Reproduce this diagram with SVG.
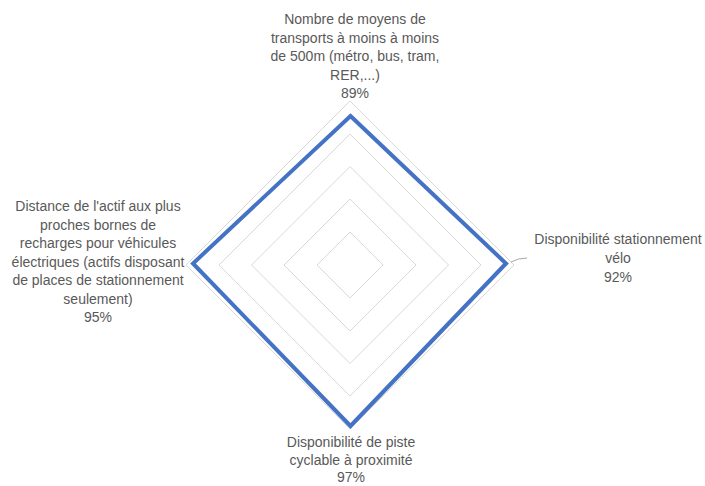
<svg xmlns="http://www.w3.org/2000/svg" width="705" height="486" viewBox="0 0 705 486">
<style>
.grid{fill:none;stroke:#d9d9d9;stroke-width:1}
.lbl{font-family:"Liberation Sans",Arial,sans-serif;font-size:14px;fill:#595959;text-anchor:middle}
.series{fill:none;stroke:#4472c4;stroke-width:4;stroke-linejoin:miter}
</style>
<rect width="705" height="486" fill="#ffffff"/>
<g id="grid">
<polygon class="grid" points="350,232 383,265 350,298 317,265"/>
<polygon class="grid" points="350,199 416,265 350,331 284,265"/>
<polygon class="grid" points="350,166.5 448.5,265 350,363.5 251.5,265"/>
<polygon class="grid" points="350,134 481,265 350,396 219,265"/>
<polygon class="grid" points="350,101 514,265 350,429 186,265"/>
</g>
<g id="connectors">
<path d="M511,262 Q518,258 527,258" fill="none" stroke="#a6a6a6" stroke-width="1"/>
</g>
<g id="series">
<polygon class="series" points="350.5,116 506,263.5 350.5,426 193,263.5"/>
</g>
<g id="node-top">
<text class="lbl" x="355" y="24">Nombre de moyens de</text>
<text class="lbl" x="355" y="42.5">transports à moins à moins</text>
<text class="lbl" x="355" y="61">de 500m (métro, bus, tram,</text>
<text class="lbl" x="355" y="79.5">RER,...)</text>
<text class="lbl" x="355" y="98">89%</text>
</g>
<g id="node-right">
<text class="lbl" x="618" y="243.5">Disponibilité stationnement</text>
<text class="lbl" x="618" y="262.5">vélo</text>
<text class="lbl" x="618" y="281.5">92%</text>
</g>
<g id="node-bottom">
<text class="lbl" x="351" y="447">Disponibilité de piste</text>
<text class="lbl" x="351" y="465">cyclable à proximité</text>
<text class="lbl" x="351" y="482">97%</text>
</g>
<g id="node-left">
<text class="lbl" x="98" y="211">Distance de l'actif aux plus</text>
<text class="lbl" x="98" y="229.5">proches bornes de</text>
<text class="lbl" x="98" y="248">recharges pour véhicules</text>
<text class="lbl" x="98" y="266.5">électriques (actifs disposant</text>
<text class="lbl" x="98" y="285">de places de stationnement</text>
<text class="lbl" x="98" y="303.5">seulement)</text>
<text class="lbl" x="98" y="322">95%</text>
</g>
</svg>
